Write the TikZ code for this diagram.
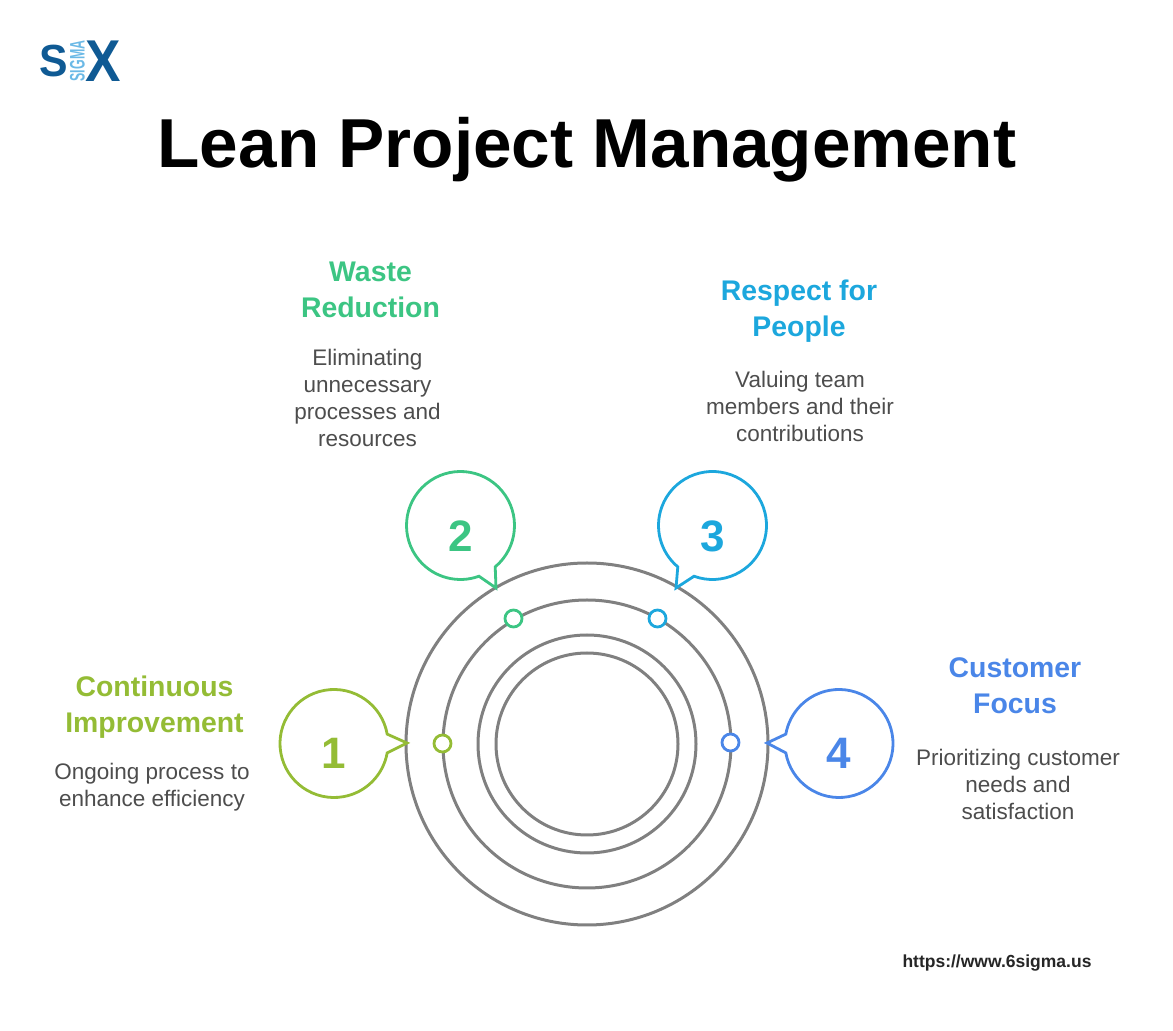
\documentclass[tikz,border=0pt]{standalone}
\usepackage{fontspec}
\setmainfont{Liberation Sans}
\definecolor{ringgray}{HTML}{808080}
\definecolor{bodygray}{HTML}{4D4D4D}
\definecolor{logoblue}{HTML}{0F5A94}
\definecolor{logosky}{HTML}{6BB9E6}
\definecolor{impgreen}{HTML}{94BC35}
\definecolor{wastegreen}{HTML}{3CC583}
\definecolor{peopleblue}{HTML}{1CA7DD}
\definecolor{focusblue}{HTML}{4A86E8}
\tikzset{
  ring/.style={circle,draw=ringgray,line width=3pt,inner sep=0,outer sep=0,minimum size=#1},
  bubble/.style={circle,inner sep=0,outer sep=0,minimum size=108pt},
  tail/.style={draw=#1,fill=white,line width=2.8pt,line join=miter},
  dot/.style={circle,draw=#1,fill=white,line width=2.8pt,inner sep=0,outer sep=0,minimum size=17pt},
  digit/.style={text=#1,font=\fontsize{44}{44}\selectfont\bfseries,inner sep=0},
  heading/.style={text=#1,align=center,font=\fontsize{28.4}{36}\selectfont\bfseries,inner sep=0},
  body/.style={text=bodygray,align=center,font=\fontsize{22.5}{27}\selectfont,inner sep=0}
}
\begin{document}
\begin{tikzpicture}[x=1pt,y=1pt]
  \useasboundingbox (0,0) rectangle (1173,1031);
  % logo
  \node[text=logoblue,font=\fontsize{45}{45}\selectfont\bfseries,inner sep=0,xscale=.95] (logos) at (53.3,970) {S};
  \node[text=logosky,font=\fontsize{21}{21}\selectfont\bfseries,inner sep=0,rotate=90,xscale=.59] (logom) at (77.5,970) {SIGMA};
  \node[text=logoblue,font=\fontsize{59}{59}\selectfont\bfseries,inner sep=0,xscale=.9] (logox) at (103.5,970) {X};
  \node[font=\fontsize{69.3}{70}\selectfont\bfseries,inner sep=0] (title) at (587,881) {Lean Project Management};
  % rings
  \node[ring=362pt] (r1) at (587,287) {};
  \node[ring=288pt] (r2) at (587,287) {};
  \node[ring=218pt] (r3) at (587,287) {};
  \node[ring=182pt] (r4) at (587,287) {};
  % bubbles
  \node[bubble] (b1) at (334,287.5) {};
  \node[bubble] (b2) at (460.5,505.5) {};
  \node[bubble] (b3) at (712.5,505.5) {};
  \node[bubble] (b4) at (839,287.5) {};
  \coordinate (t1) at (407,288);
  \coordinate (t2) at (496,443);
  \coordinate (t3) at (676,443);
  \coordinate (t4) at (767,288);
  \draw[tail=impgreen] (t1) -- (b1.10) arc[start angle=10,end angle=350,radius=54pt] -- cycle;
  \draw[tail=wastegreen] (t2) -- (b2.-50) arc[start angle=-50,end angle=290,radius=54pt] -- cycle;
  \draw[tail=peopleblue] (t3) -- (b3.-110) arc[start angle=-110,end angle=230,radius=54pt] -- cycle;
  \draw[tail=focusblue] (t4) -- (b4.190) arc[start angle=190,end angle=530,radius=54pt] -- cycle;
  \node[digit=impgreen] (n1) at (333.5,278) {1};
  \node[digit=wastegreen] (n2) at (460.5,495) {2};
  \node[digit=peopleblue] (n3) at (712.5,495) {3};
  \node[digit=focusblue] (n4) at (838.5,278) {4};
  % dots on the second ring
  \node[dot=impgreen] (d1) at (442.5,287.5) {};
  \node[dot=wastegreen] (d2) at (513.5,412.5) {};
  \node[dot=peopleblue] (d3) at (657.5,412.5) {};
  \node[dot=focusblue] (d4) at (730.5,288.5) {};
  % texts
  \node[heading=impgreen] (h1) at (154.5,323.5) {Continuous\\Improvement};
  \node[body] (p1) at (152,244) {Ongoing process to\\enhance efficiency};
  \node[heading=wastegreen] (h2) at (370.5,741) {Waste\\Reduction};
  \node[body] (p2) at (367.5,633) {Eliminating\\unnecessary\\processes and\\resources};
  \node[heading=peopleblue] (h3) at (799,719.5) {Respect for\\People};
  \node[body] (p3) at (800,625) {Valuing team\\members and their\\contributions};
  \node[heading=focusblue] (h4) at (1015,345) {Customer\\Focus};
  \node[body] (p4) at (1018,247) {Prioritizing customer\\needs and\\satisfaction};
  \node[text=black!85,font=\fontsize{17.5}{18}\selectfont\bfseries,inner sep=0] (url) at (997,68) {https://www.6sigma.us};
\end{tikzpicture}
\end{document}
